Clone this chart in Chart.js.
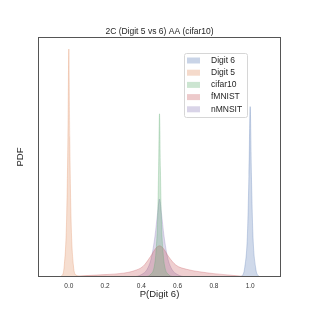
<!DOCTYPE html>
<html>
<head>
<meta charset="utf-8">
<script src="https://cdn.jsdelivr.net/npm/chart.js@4.4.0/dist/chart.umd.min.js"></script>
<style>
  html, body { margin: 0; padding: 0; background: #fff; }
  #wrap { width: 312px; height: 312px; }
</style>
</head>
<body>
<div id="wrap"><canvas id="kdeChart" width="312" height="312"></canvas></div>
<script>
// ---- data (y in arbitrary PDF units) ----
const TITLE = '2C (Digit 5 vs 6) AA (cifar10)';
const X_TICKS = [0.0, 0.2, 0.4, 0.6, 0.8, 1.0];
const LABELS = ['Digit 6', 'Digit 5', 'cifar10', 'fMNIST', 'nMNSIT'];

const digit6X = [0.94, 0.955, 0.97, 0.985, 0.993, 1.0, 1.007, 1.015, 1.03, 1.045, 1.06];
const digit6Y = [0, 0.5, 4, 18, 42, 71, 42, 18, 4, 0.5, 0];

const digit5X = [-0.06, -0.04, -0.025, -0.012, -0.005, 0.0, 0.005, 0.012, 0.025, 0.04, 0.06, 0.2, 0.5, 0.8, 1.0];
const digit5Y = [0, 0.5, 5, 25, 58, 95, 58, 25, 5, 0.8, 0.4, 0.3, 0.2, 0.1, 0];

const cifarX = [0.42, 0.45, 0.47, 0.48, 0.49, 0.495, 0.5, 0.505, 0.51, 0.52, 0.53, 0.55, 0.58];
const cifarY = [0, 1, 4, 10, 25, 45, 68, 45, 25, 10, 4, 1, 0];

const fmnistX = [0.0, 0.1, 0.2, 0.3, 0.36, 0.41, 0.45, 0.48, 0.5, 0.52, 0.55, 0.59, 0.65, 0.72, 0.8, 0.9, 1.0];
const fmnistY = [0, 0.6, 1.0, 1.6, 2.6, 4.5, 8.5, 12, 13, 12, 8.5, 5, 3.2, 2.2, 1.4, 0.7, 0];

const nmnistX = [0.36, 0.4, 0.43, 0.455, 0.475, 0.49, 0.5, 0.51, 0.525, 0.545, 0.57, 0.6, 0.64];
const nmnistY = [0, 1, 3, 8, 17, 27, 32.5, 27, 17, 8, 3, 1, 0];

const COLORS = {
  blue:   '76,114,176',
  orange: '221,132,82',
  green:  '85,168,104',
  red:    '196,78,82',
  purple: '129,114,179',
};

const PLOT = { left: 38, right: 281, top: 37, bottom: 277 };

function pts(xs, ys) { return xs.map((x, i) => ({ x, y: ys[i] })); }

function kdeSet(label, xs, ys, c) {
  return {
    label,
    data: pts(xs, ys),
    backgroundColor: `rgba(${c},0.27)`,
    borderColor: `rgba(${c},0.35)`,
    borderWidth: 0.8,
    fill: 'origin',
    pointRadius: 0,
    cubicInterpolationMode: 'monotone',
  };
}

// draws title, axis titles, frame and the legend box
const decor = {
  id: 'decor',
  afterDraw(chart) {
    const { ctx, chartArea: a } = chart;
    ctx.save();
    ctx.fillStyle = '#262626';
    ctx.textAlign = 'center';
    ctx.textBaseline = 'middle';
    ctx.font = '8.5px "Liberation Sans", Arial, sans-serif';
    ctx.fillText(TITLE, (a.left + a.right) / 2, 31.5);
    ctx.font = '9.5px "Liberation Sans", Arial, sans-serif';
    ctx.fillText('P(Digit 6)', (a.left + a.right) / 2, 294);
    ctx.save();
    ctx.translate(20, (a.top + a.bottom) / 2);
    ctx.rotate(-Math.PI / 2);
    ctx.fillText('PDF', 0, 0);
    ctx.restore();

    // frame
    ctx.strokeStyle = '#555';
    ctx.lineWidth = 1;
    ctx.strokeRect(a.left + 0.5, a.top + 0.5, a.right - a.left - 1, a.bottom - a.top - 1);

    // legend
    const lx = 184.5, ly = 53.5, lw = 63, lh = 64;
    ctx.fillStyle = 'rgba(255,255,255,0.85)';
    ctx.strokeStyle = '#d6d6d6';
    ctx.lineWidth = 1;
    ctx.beginPath();
    ctx.roundRect(lx, ly, lw, lh, 2);
    ctx.fill();
    ctx.stroke();
    const cols = [COLORS.blue, COLORS.orange, COLORS.green, COLORS.red, COLORS.purple];
    ctx.font = '8.5px "Liberation Sans", Arial, sans-serif';
    ctx.textAlign = 'left';
    LABELS.forEach((l, i) => {
      const cy = 60.5 + i * 12.2;
      ctx.fillStyle = `rgba(${cols[i]},0.3)`;
      ctx.fillRect(187, cy - 3, 13, 6);
      ctx.fillStyle = '#262626';
      ctx.fillText(l, 211, cy);
    });
    ctx.restore();
  }
};

new Chart(document.getElementById('kdeChart'), {
  type: 'line',
  data: {
    datasets: [
      kdeSet(LABELS[0], digit6X, digit6Y, COLORS.blue),
      kdeSet(LABELS[1], digit5X, digit5Y, COLORS.orange),
      kdeSet(LABELS[2], cifarX, cifarY, COLORS.green),
      kdeSet(LABELS[3], fmnistX, fmnistY, COLORS.red),
      kdeSet(LABELS[4], nmnistX, nmnistY, COLORS.purple),
    ]
  },
  options: {
    responsive: false,
    animation: false,
    layout: { padding: { left: 0, top: PLOT.top, right: 312 - PLOT.right, bottom: 0 } },
    plugins: { legend: { display: false }, tooltip: { enabled: false } },
    scales: {
      x: {
        type: 'linear',
        min: -0.17,
        max: 1.17,
        afterBuildTicks: s => { s.ticks = X_TICKS.map(v => ({ value: v })); },
        afterFit: s => { s.height = 312 - PLOT.bottom; },
        grid: { display: false, drawTicks: false },
        border: { display: false },
        ticks: {
          color: '#333',
          padding: 5,
          maxRotation: 0,
          font: { size: 6.5, family: '"Liberation Sans", Arial, sans-serif' },
          callback: v => v.toFixed(1)
        }
      },
      y: {
        min: 0,
        max: 100,
        afterFit: s => { s.width = PLOT.left; },
        grid: { display: false },
        border: { display: false },
        ticks: { display: false }
      }
    }
  },
  plugins: [decor]
});
</script>
</body>
</html>
